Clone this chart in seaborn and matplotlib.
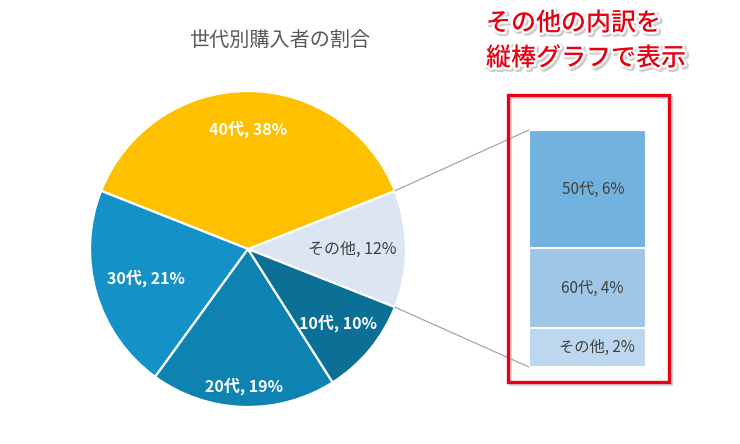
import numpy as np
import matplotlib
matplotlib.use("Agg")
import matplotlib.pyplot as plt
import matplotlib.patheffects as pe
from matplotlib.patches import ConnectionPatch, Rectangle
import seaborn as sns

sns.set_theme(style="white")
plt.rcParams['font.family'] = ['Noto Sans CJK JP', 'DejaVu Sans']

# ---- data ----
pie_labels = ["その他", "40代", "30代", "20代", "10代"]
pie_values = [12, 38, 21, 19, 10]
pie_colors = ["#DBE6F2", "#FFC000", "#1492C7", "#0E83B1", "#0B6F96"]
pie_label_colors = ["#404040", "white", "white", "white", "white"]
pie_label_weights = ["normal", "bold", "bold", "bold", "bold"]
pie_label_radius = [0.66, 0.76, 0.67, 0.87, 0.74]

bar_labels = ["50代", "60代", "その他"]
bar_values = [6, 4, 2]
bar_colors = ["#72B2DE", "#9FC6E7", "#BDD7EE"]

title = "世代別購入者の割合"
note = "その他の内訳を\n縦棒グラフで表示"

W, H = 740, 444
fig = plt.figure(figsize=(W / 100, H / 100), dpi=100)

def px_axes(x0, y0, x1, y1):
    return fig.add_axes([x0 / W, 1 - y1 / H, (x1 - x0) / W, (y1 - y0) / H])

# ---- pie ----
ax_pie = px_axes(90, 91, 406, 407)
total = sum(pie_values)
start = -pie_values[0] / total * 180
ax_pie.pie(pie_values, colors=pie_colors, startangle=start, counterclock=True,
           wedgeprops=dict(edgecolor="white", linewidth=1.6))
ax_pie.set_xlim(-1, 1)
ax_pie.set_ylim(-1, 1)
ax_pie.set_aspect("equal")
ax_pie.axis("off")

cum = start
for lab, v, c, w, r in zip(pie_labels, pie_values, pie_label_colors,
                           pie_label_weights, pie_label_radius):
    mid = np.deg2rad(cum + v / total * 180)
    cum += v / total * 360
    ax_pie.text(r * np.cos(mid), r * np.sin(mid), f"{lab}, {v}%",
                ha="center", va="center", color=c, fontsize=11.5, fontweight=w)

# ---- stacked bar (drawn as overlapping cumulative bars) ----
ax_bar = px_axes(529, 130, 646, 367)
cums = np.cumsum(bar_values[::-1])[::-1]  # [12, 6, 2]
for top, col in zip(cums, bar_colors):
    sns.barplot(x=["x"], y=[top], color=col, saturation=1, width=1,
                edgecolor="white", linewidth=1.5, ax=ax_bar)
ax_bar.set_xlim(-0.5, 0.5)
ax_bar.set_ylim(0, sum(bar_values))
ax_bar.axis("off")

bottoms = np.concatenate([cums[1:], [0]])
xoffs = [0.05, 0.04, 0.08]
for lab, v, b, t, xo in zip(bar_labels, bar_values, bottoms, cums, xoffs):
    ax_bar.text(xo, (b + t) / 2, f"{lab}, {v}%", ha="center", va="center",
                color="#404040", fontsize=11)

# ---- connector lines ----
a = np.deg2rad(-start)  # upper edge of the "その他" slice
for ya, yb in [(np.sin(a), sum(bar_values)), (-np.sin(a), 0)]:
    con = ConnectionPatch(xyA=(np.cos(a), ya), coordsA=ax_pie.transData,
                          xyB=(-0.5, yb), coordsB=ax_bar.transData,
                          color="#A6A6A6", lw=0.9)
    fig.add_artist(con)

# ---- red frame ----
shadow = Rectangle((510 / W, 1 - 384 / H), 161 / W, 287 / H, transform=fig.transFigure,
                   fill=False, edgecolor="#BBBBBB", lw=2.2, alpha=0.6)
fig.add_artist(shadow)
frame = Rectangle((508 / W, 1 - 382 / H), 161 / W, 287 / H, transform=fig.transFigure,
                  fill=False, edgecolor="#E60012", lw=2.4)
fig.add_artist(frame)

# ---- texts ----
fig.text(280 / W, 1 - 40 / H, title, ha="center", va="center",
         fontsize=14.5, color="#595959")
fig.text(486 / W, 1 - 41 / H, note, ha="left", va="center", fontsize=18,
         fontweight="medium", color="#E60012", linespacing=1.45,
         path_effects=[pe.Stroke(linewidth=4, foreground="#9A9A9A", offset=(1.2, -1.2), alpha=0.5),
                       pe.Stroke(linewidth=3.5, foreground="white"), pe.Normal()])

fig.savefig("out.png", dpi=100)
